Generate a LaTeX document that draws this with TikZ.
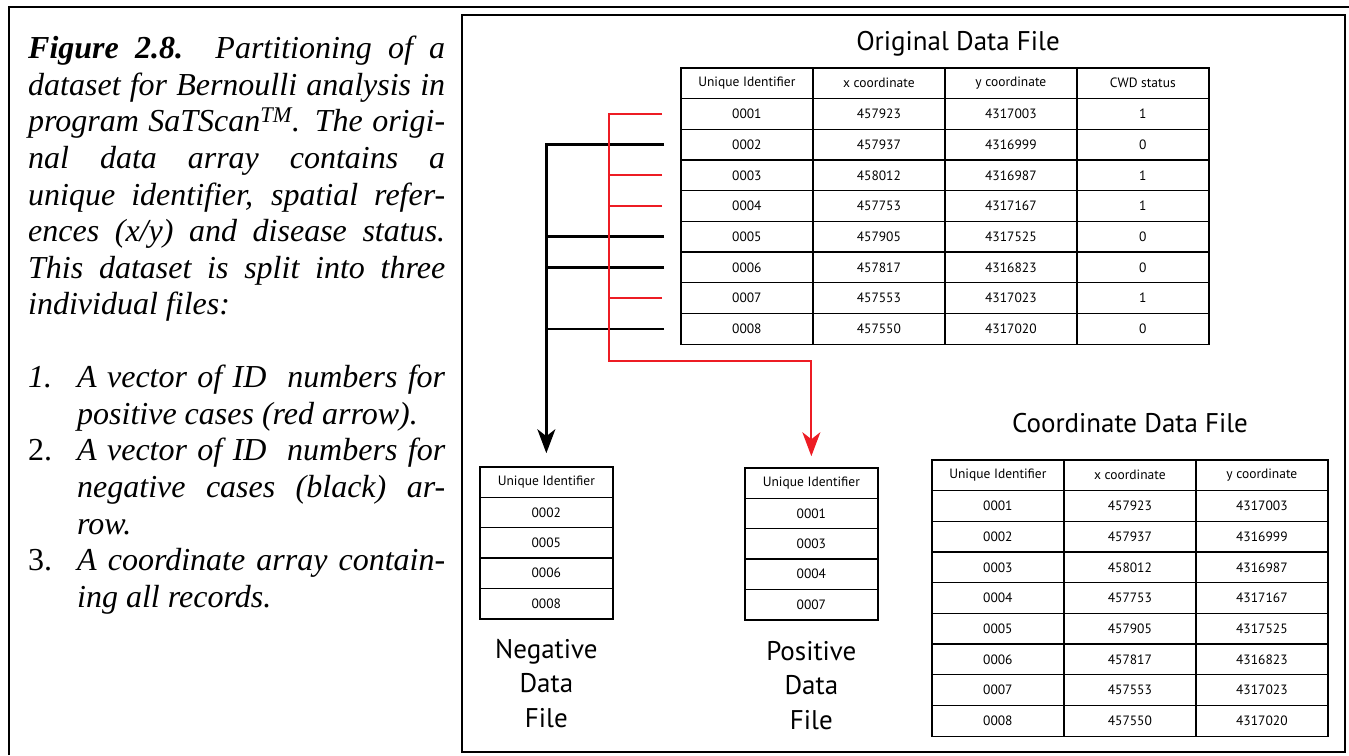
\documentclass[tikz,border=0pt]{standalone}
\usepackage{fontspec}
\setmainfont{Liberation Serif}
\newfontfamily\tabfont{PT Sans}
\usetikzlibrary{matrix,arrows.meta,positioning}
\definecolor{posred}{RGB}{237,28,36}

\tikzset{
  datatab/.style={matrix of nodes, nodes in empty cells, anchor=north west,
    inner sep=0pt, column sep=-1.3pt, row sep=-1.3pt,
    nodes={draw, anchor=center, line width=1.3pt, minimum width=132pt, minimum height=30.7pt,
      inner sep=0pt, font=\tabfont\fontsize{13.5}{13.5}\selectfont}},
  idtab/.style={datatab, nodes={minimum width=133pt, minimum height=30.4pt}},
  filetitle/.style={font=\tabfont\fontsize{27}{34.7}\selectfont, align=center, inner sep=0pt},
  captext/.style={anchor=north west, inner sep=0pt, align=left, font=\fontsize{32}{36.6}\selectfont\itshape},
  negline/.style={draw, line width=2.5pt},
  posline/.style={draw, posred, line width=2pt},
  bigtip/.style={-{Stealth[length=24pt, width=18pt, inset=7pt]}}
}

\begin{document}
\begin{tikzpicture}[x=1pt, y=-1pt]
    \useasboundingbox (0,0) rectangle (1349,755);
    % frames
    \draw [line width=2.5pt] (9,755) -- (9,7) -- (1349,7);
    \draw [line width=2pt] (462,15) rectangle (1345,752);

    % caption text
    \node [captext] at (28,36) (caption) {%
      \makebox[417pt][s]{\textbf{Figure 2.8.}\ \ Partitioning of a}\\
      \makebox[417pt][s]{dataset for Bernoulli analysis in}\\
      \makebox[417pt][s]{program SaTScan\textsuperscript{TM}. The origi-}\\
      \makebox[417pt][s]{nal data array contains a}\\
      \makebox[417pt][s]{unique identifier, spatial refer-}\\
      \makebox[417pt][s]{ences (x/y) and disease status.}\\
      \makebox[417pt][s]{This dataset is split into three}\\
      individual files:};
    \node [captext] at (28,365) (cases) {%
      \makebox[49pt][l]{1.}\makebox[368pt][s]{A vector of ID\ \ numbers for}\\
      \hspace*{49pt}positive cases (red arrow).\\
      \makebox[49pt][l]{\upshape 2.}\makebox[368pt][s]{A vector of ID\ \ numbers for}\\
      \hspace*{49pt}\makebox[368pt][s]{negative cases (black) ar-}\\
      \hspace*{49pt}row.\\
      \makebox[49pt][l]{\upshape 3.}\makebox[368pt][s]{A coordinate array contain-}\\
      \hspace*{49pt}ing all records.};

    % original data file
    \node [filetitle, anchor=base] at (958,50) (origtitle) {Original Data File};
    \matrix [datatab] at (680,67) (orig) {
      Unique Identifier & x coordinate & y coordinate & CWD status \\
      0001 & 457923 & 4317003 & 1 \\
      0002 & 457937 & 4316999 & 0 \\
      0003 & 458012 & 4316987 & 1 \\
      0004 & 457753 & 4317167 & 1 \\
      0005 & 457905 & 4317525 & 0 \\
      0006 & 457817 & 4316823 & 0 \\
      0007 & 457553 & 4317023 & 1 \\
      0008 & 457550 & 4317020 & 0 \\
    };

    % split files
    \matrix [idtab] at (479,466) (neg) {
      Unique Identifier \\ 0002 \\ 0005 \\ 0006 \\ 0008 \\
    };
    \matrix [idtab] at (744,467) (pos) {
      Unique Identifier \\ 0001 \\ 0003 \\ 0004 \\ 0007 \\
    };
    \node [filetitle, below=19pt of neg] (negtitle) {Negative\\Data\\File};
    \node [filetitle, below=20pt of pos] (postitle) {Positive\\Data\\File};

    % coordinate data file
    \node [filetitle, anchor=base] at (1130,432) (coordtitle) {Coordinate Data File};
    \matrix [datatab] at (931,459) (coord) {
      Unique Identifier & x coordinate & y coordinate \\
      0001 & 457923 & 4317003 \\
      0002 & 457937 & 4316999 \\
      0003 & 458012 & 4316987 \\
      0004 & 457753 & 4317167 \\
      0005 & 457905 & 4317525 \\
      0006 & 457817 & 4316823 \\
      0007 & 457553 & 4317023 \\
      0008 & 457550 & 4317020 \\
    };

    % negative records (black)
    \path [negline, bigtip] ([xshift=-16pt]orig-3-1.west) -| ([yshift=13pt]neg-1-1.north);
    \foreach \r in {6,7,9}
      \path [negline] ([xshift=-16pt]orig-\r-1.west) -- (orig-\r-1.west -| neg-1-1.north);

    % positive records (red)
    \coordinate (redbus) at (609,361);
    \path [posline, bigtip] ([xshift=-18pt]orig-2-1.west) -| (redbus) -| ([yshift=11pt]pos-1-1.north);
    \foreach \r in {4,5,8}
      \path [posline] ([xshift=-18pt]orig-\r-1.west) -- (orig-\r-1.west -| redbus);
\end{tikzpicture}
\end{document}
